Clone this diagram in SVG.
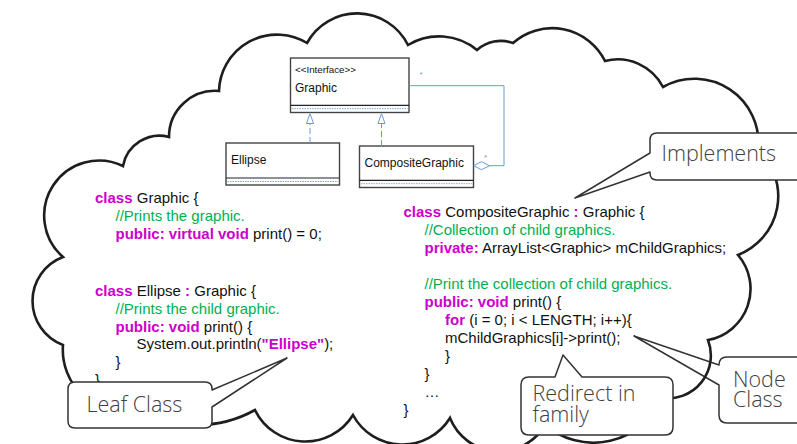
<svg xmlns="http://www.w3.org/2000/svg" width="797" height="444" viewBox="0 0 797 444">
  <style>
    .cloud { fill: none; stroke: #1e1e1e; stroke-width: 2.6; stroke-linejoin: miter; }
    .code { font-family: "Liberation Sans", Arial, sans-serif; font-size: 15px; fill: #111; }
    .kw { fill: #cc00cc; font-weight: bold; }
    .cm { fill: #00b050; }
    .uml-box { fill: #fff; stroke: #444; stroke-width: 1.4; }
    .uml-sep { stroke: #222; stroke-width: 1.2; }
    .uml-dot { stroke: #7fa8d8; stroke-width: 1; stroke-dasharray: 1.5 1; }
    .uml-text { font-family: "Liberation Sans", Arial, sans-serif; font-size: 12px; fill: #111; }
    .uml-stereo { font-family: "Liberation Sans", Arial, sans-serif; font-size: 9.8px; fill: #111; }
    .rel { fill: none; stroke: #6b9bd2; stroke-width: 1; }
    .dash { stroke-dasharray: 6 3; }
    .mult { font-family: "Liberation Sans", Arial, sans-serif; font-size: 8px; fill: #6b9bd2; }
    .callout { fill: #fff; stroke: #333; stroke-width: 1.5; stroke-linejoin: round; }
    .callout-text { font-family: "Open Sans", "Noto Sans", sans-serif; font-size: 21.5px; font-weight: 300; fill: #404040; }
  </style>
  <defs>
    <marker id="realize" viewBox="0 0 10 10" refX="10" refY="5" markerWidth="10" markerHeight="10" markerUnits="userSpaceOnUse" orient="auto">
      <path d="M0,1.5 L10,5 L0,8.5 Z" fill="#fff" stroke="#6b9bd2" stroke-width="1"/>
    </marker>
    <marker id="aggregate" viewBox="0 0 16 10" refX="16" refY="5" markerWidth="16" markerHeight="10" markerUnits="userSpaceOnUse" orient="auto">
      <path d="M0,5 L8,1 L16,5 L8,9 Z" fill="#fff" stroke="#6b9bd2" stroke-width="1"/>
    </marker>
  </defs>

  <rect width="797" height="444" fill="#fff"/>

  <!-- callout: Node Class (its pointer sits under the cloud outline) -->
  <g id="callout-node-class">
    <path class="callout" d="M727,357 H822 V423 H727 Q719,423 719,415 V385 L634,336 L719,365 Q719,357 727,357 Z"/>
    <text class="callout-text" x="733" y="386.5">Node</text>
    <text class="callout-text" x="733" y="406.5">Class</text>
  </g>

  <!-- thought cloud outline -->
  <g id="cloud">
    <path class="cloud" d="M63,257
      A55,55 0 0 1 123,166
      A37,37 0 0 1 169,137
      A46,46 0 0 1 219,91
      A58,58 0 0 1 307,43
      A57,57 0 0 1 408,45
      A60,60 0 0 1 477,50
      A36,36 0 0 1 513,43
      A59,59 0 0 1 605,61
      A51,51 0 0 1 663,87
      A64,64 0 0 1 758,150
      A63,63 0 0 1 738,255
      A52,52 0 0 1 708,340
      A43,43 0 0 1 662,398
      A75,75 0 0 1 545,425
      A53,53 0 0 1 450,418
      A56,56 0 0 1 353,415
      A56,56 0 0 1 255,410
      A118,118 0 0 1 140,410
      A62,62 0 0 1 63,345
      A47,47 0 0 1 63,257 Z"/>
  </g>

  <!-- UML class boxes -->
  <g id="uml-graphic">
    <rect class="uml-box" x="290.5" y="58" width="118.5" height="54.5"/>
    <line class="uml-sep" x1="290.5" y1="105.3" x2="409" y2="105.3"/>
    <line class="uml-dot" x1="292" y1="108.7" x2="407.5" y2="108.7"/>
    <text class="uml-stereo" x="295" y="73">&lt;&lt;Interface&gt;&gt;</text>
    <text class="uml-text" x="295" y="92">Graphic</text>
  </g>
  <g id="uml-ellipse">
    <rect class="uml-box" x="226" y="143" width="113.5" height="42"/>
    <line class="uml-sep" x1="226" y1="178" x2="339.5" y2="178"/>
    <line class="uml-dot" x1="227.5" y1="181.5" x2="338" y2="181.5"/>
    <text class="uml-text" x="231" y="164">Ellipse</text>
  </g>
  <g id="uml-composite">
    <rect class="uml-box" x="359.5" y="146" width="114" height="41.5"/>
    <line class="uml-sep" x1="359.5" y1="180.3" x2="473.5" y2="180.3"/>
    <line class="uml-dot" x1="361" y1="183.7" x2="472" y2="183.7"/>
    <text class="uml-text" x="364.5" y="167">CompositeGraphic</text>
  </g>

  <!-- UML relations -->
  <g id="uml-connectors">
    <line class="rel dash" x1="310" y1="143" x2="310" y2="113.5" marker-end="url(#realize)"/>
    <line class="rel dash" x1="381.5" y1="146" x2="381.5" y2="113.5" marker-end="url(#realize)"/>
    <polyline class="rel" points="409,85.7 504,85.7 504,165.7 473.5,165.7" marker-end="url(#aggregate)"/>
    <text class="mult" x="419.5" y="77">*</text>
    <text class="mult" x="484" y="160">*</text>
  </g>

  <!-- source code -->
  <g id="code-left" class="code">
    <text x="95" y="203"><tspan class="kw">class</tspan> Graphic {</text>
    <text x="115.5" y="221" class="cm">//Prints the graphic.</text>
    <text x="115.5" y="239"><tspan class="kw">public: virtual void</tspan> print() = 0;</text>
    <text x="95" y="296"><tspan class="kw">class</tspan> Ellipse <tspan class="kw">:</tspan> Graphic {</text>
    <text x="115.5" y="314" class="cm">//Prints the child graphic.</text>
    <text x="115.5" y="331.5"><tspan class="kw">public: void</tspan> print() {</text>
    <text x="136.5" y="349">System.out.println(<tspan class="kw">"Ellipse"</tspan>);</text>
    <text x="115.5" y="367">}</text>
    <text x="95" y="385">}</text>
  </g>
  <g id="code-right" class="code">
    <text x="403.5" y="217"><tspan class="kw">class</tspan> CompositeGraphic <tspan class="kw">:</tspan> Graphic {</text>
    <text x="424.5" y="235" class="cm">//Collection of child graphics.</text>
    <text x="424.5" y="253"><tspan class="kw">private:</tspan> ArrayList&lt;Graphic&gt; mChildGraphics;</text>
    <text x="424.5" y="289" class="cm">//Print the collection of child graphics.</text>
    <text x="424.5" y="307"><tspan class="kw">public: void</tspan> print() {</text>
    <text x="445" y="325"><tspan class="kw">for</tspan> (i = 0; i &lt; LENGTH; i++){</text>
    <text x="445" y="343">mChildGraphics[i]-&gt;print();</text>
    <text x="445" y="361">}</text>
    <text x="424.5" y="379">}</text>
    <text x="424.5" y="397">…</text>
    <text x="403.5" y="415">}</text>
  </g>

  <!-- callouts -->
  <g id="callout-leaf-class">
    <path class="callout" d="M75,382 H205 Q212,382 212,389 V390 L287,358 L212,407 V421 Q212,428 205,428 H75 Q68,428 68,421 V389 Q68,382 75,382 Z"/>
    <text class="callout-text" x="86.5" y="412">Leaf Class</text>
  </g>
  <g id="callout-implements">
    <path class="callout" d="M657,133 H822 V180 H657 Q650,180 650,173 V172 L575,198 L650,153 V140 Q650,133 657,133 Z"/>
    <text class="callout-text" x="661.5" y="161">Implements</text>
  </g>
  <g id="callout-redirect">
    <path class="callout" d="M529,377 H555 L563,355 L582,377 H665 Q673,377 673,385 V427 Q673,435 665,435 H529 Q521,435 521,427 V385 Q521,377 529,377 Z"/>
    <text class="callout-text" x="532.5" y="401">Redirect in</text>
    <text class="callout-text" x="532.5" y="422">family</text>
  </g>
</svg>
